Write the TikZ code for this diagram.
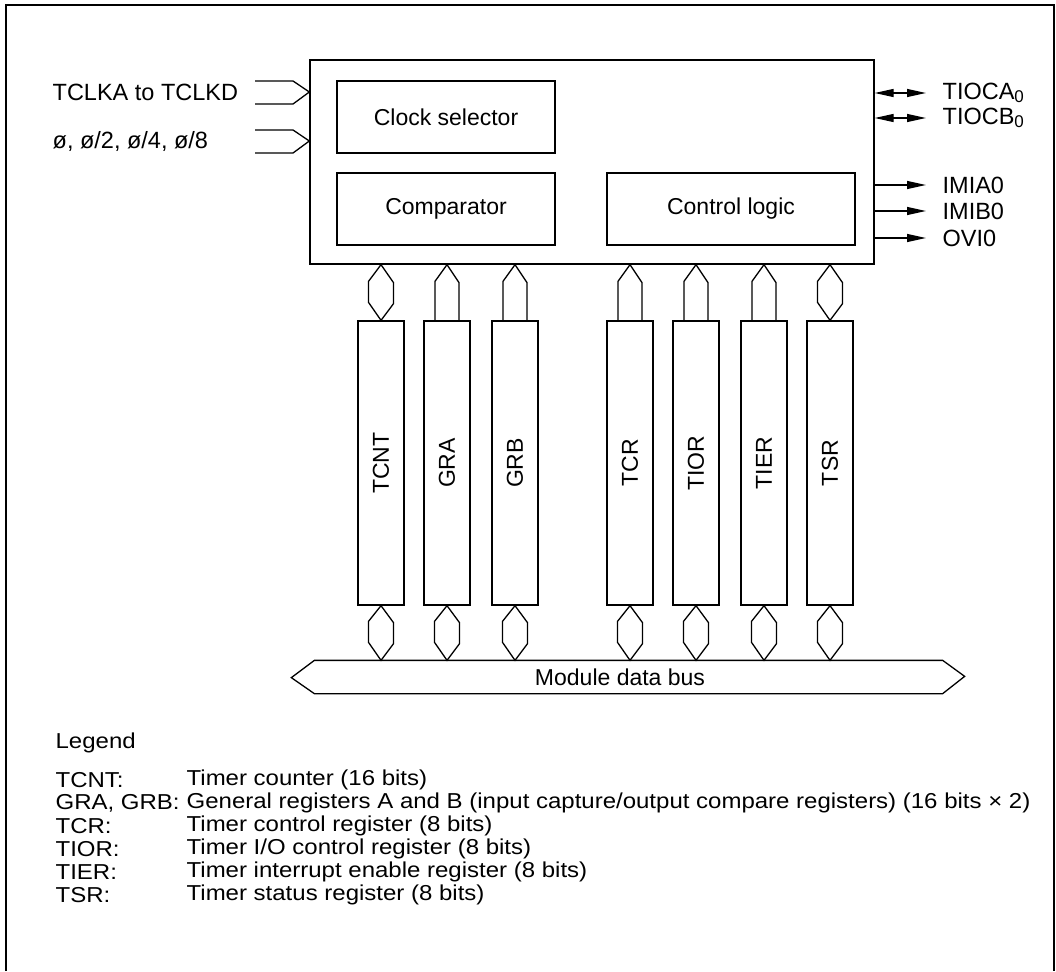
\documentclass[tikz,border=0pt]{standalone}
\usepackage{fontspec}
\setmainfont{Liberation Sans}
\usetikzlibrary{arrows.meta}
\newcommand{\legsq}[1]{\scalebox{1}[0.9]{#1}}
\begin{document}
\begin{tikzpicture}[x=1pt,y=-1pt,line width=1.3pt,line join=miter,
  lbl/.style={font=\fontsize{23.5}{27}\selectfont,inner sep=0pt},
  buslbl/.style={font=\fontsize{23}{27}\selectfont,inner sep=0pt},
  leg/.style={font=\fontsize{24}{27}\selectfont,inner sep=0pt,anchor=west},
  blk/.style={draw,minimum height=72pt,inner sep=0pt,font=\fontsize{23}{27}\selectfont},
  reg/.style={draw,minimum width=46pt,minimum height=284pt,inner sep=0pt},
  regtxt/.style={font=\fontsize{23}{27}\selectfont,rotate=90,inner sep=0pt},
  otip/.style={-{Triangle[length=19pt,width=8pt]}},
  dtip/.style={{Triangle[length=19pt,width=8pt]}-{Triangle[length=19pt,width=8pt]}}]
\useasboundingbox (0,0) rectangle (1056,971);
% outer frame
\draw (6,971) -- (6,5) -- (1054,5) -- (1054,971);
% main block
\node[draw,minimum width=564pt,minimum height=204pt,inner sep=0pt] (main) at (592,162) {};
\node[blk,minimum width=218pt] (clk) at (446,117) {Clock selector};
\node[blk,minimum width=218pt] (cmp) at (446,209) {Comparator};
\node[blk,minimum width=248pt] (ctl) at (731,209) {Control logic};
% inputs
\draw (255,81) -- (293,81) -- (main.west |- 0,92) -- (293,104) -- (255,104);
\draw (255,130) -- (293,130) -- (main.west |- 0,141) -- (293,153) -- (255,153);
\node[lbl,anchor=west] (tclk) at (52,92) {TCLKA to TCLKD};
\node[lbl,anchor=west] (phi) at (52,141) {ø, ø/2, ø/4, ø/8};
% outputs
\coordinate (oa) at (926,93);
\coordinate (ob) at (926,118);
\coordinate (oc) at (926,185);
\coordinate (od) at (926,211);
\coordinate (oe) at (926,238);
\draw[dtip] (oa -| main.east) -- (oa);
\draw[dtip] (ob -| main.east) -- (ob);
\draw[otip] (oc -| main.east) -- (oc);
\draw[otip] (od -| main.east) -- (od);
\draw[otip] (oe -| main.east) -- (oe);
\node[lbl,anchor=west] (la) at (942,93) {TIOCA\raisebox{-0.25ex}{\fontsize{17}{19}\selectfont 0}};
\node[lbl,anchor=west] (lb) at (942,118) {TIOCB\raisebox{-0.25ex}{\fontsize{17}{19}\selectfont 0}};
\node[lbl,anchor=west] (lc) at (942,185) {IMIA0};
\node[lbl,anchor=west] (ld) at (942,211) {IMIB0};
\node[lbl,anchor=west] (le) at (942,238) {OVI0};
% registers
\foreach \n/\x/\t in {tcnt/381/TCNT,gra/447/GRA,grb/515/GRB,tcr/630/TCR,tior/696/TIOR,tier/764/TIER,tsr/830/TSR}{
  \node[reg] (\n) at (\x,463) {};
  \node[regtxt] at (\n) {\t};
}
% bus
\node[minimum width=627pt,minimum height=32pt,inner sep=0pt] (bus) at (628.5,677) {};
\draw (bus.north west) -- (bus.north east) -- ++(22,16) -- (bus.south east) -- (bus.south west) -- ++(-23,-16) -- cycle;
\node[buslbl] (buslabel) at (620,677) {Module data bus};
% top connectors: bidirectional (hexagon)
\foreach \n in {tcnt,tsr}{
  \draw (\n.north |- main.south) -- ++(12.5,18) -- ++(0,21) -- (\n.north) -- ++(-12.5,-18) -- ++(0,-21) -- cycle;
}
% top connectors: towards main block (arrow shape)
\foreach \n in {gra,grb,tcr,tior,tier}{
  \draw ([xshift=-12pt]\n.north) -- ++(0,-39) -- (\n.north |- main.south) -- ++(12,18) -- ++(0,39);
}
% bottom connectors to bus
\foreach \n in {tcnt,gra,grb,tcr,tior,tier,tsr}{
  \draw (\n.south) -- ++(12.5,17) -- ++(0,21) -- (\n.south |- bus.north) -- ++(-12.5,-18) -- ++(0,-21) -- cycle;
}
% legend
\node[leg] (lg) at (55,743) {\legsq{Legend}};
\node[leg] (k1) at (55,780) {\legsq{TCNT:}};
\node[leg] (k2) at (55,803) {\legsq{GRA, GRB:}};
\node[leg] (k3) at (55,826) {\legsq{TCR:}};
\node[leg] (k4) at (55,849) {\legsq{TIOR:}};
\node[leg] (k5) at (55,872) {\legsq{TIER:}};
\node[leg] (k6) at (55,895) {\legsq{TSR:}};
\node[leg] (d1) at (186,780) {\legsq{Timer counter (16 bits)}};
\node[leg] (d2) at (186,803) {\legsq{General registers A and B (input capture/output compare registers) (16 bits × 2)}};
\node[leg] (d3) at (186,826) {\legsq{Timer control register (8 bits)}};
\node[leg] (d4) at (186,849) {\legsq{Timer I/O control register (8 bits)}};
\node[leg] (d5) at (186,872) {\legsq{Timer interrupt enable register (8 bits)}};
\node[leg] (d6) at (186,895) {\legsq{Timer status register (8 bits)}};
\end{tikzpicture}
\end{document}
